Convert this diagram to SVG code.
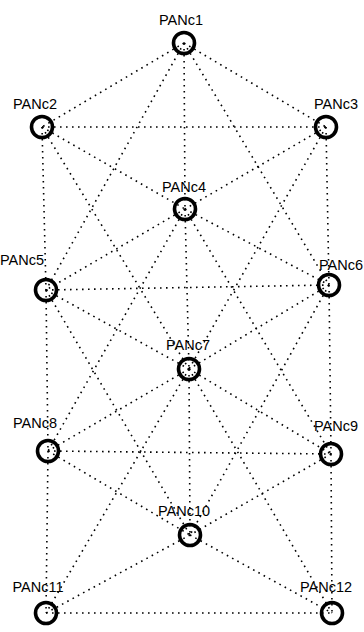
<svg xmlns="http://www.w3.org/2000/svg" width="364" height="632" viewBox="0 0 364 632">
<style>
.e{stroke:#000;stroke-width:1.6;stroke-dasharray:1.6 4.4;fill:none}
.n{fill:none;stroke:#000;stroke-width:3.6}
.t{font-family:"Liberation Sans",Arial,sans-serif;font-size:14.5px;fill:#000;text-anchor:middle}
</style>
<rect width="364" height="632" fill="#fff"/>
<g id="connectors">
<line class="e" x1="184" y1="43" x2="42" y2="127"/>
<line class="e" x1="184" y1="43" x2="326" y2="127"/>
<line class="e" x1="184" y1="43" x2="185" y2="209"/>
<line class="e" x1="184" y1="43" x2="46" y2="290"/>
<line class="e" x1="184" y1="43" x2="329" y2="285"/>
<line class="e" x1="42" y1="127" x2="326" y2="127"/>
<line class="e" x1="42" y1="127" x2="185" y2="209"/>
<line class="e" x1="42" y1="127" x2="46" y2="290"/>
<line class="e" x1="42" y1="127" x2="189" y2="369"/>
<line class="e" x1="326" y1="127" x2="185" y2="209"/>
<line class="e" x1="326" y1="127" x2="329" y2="285"/>
<line class="e" x1="326" y1="127" x2="189" y2="369"/>
<line class="e" x1="185" y1="209" x2="46" y2="290"/>
<line class="e" x1="185" y1="209" x2="329" y2="285"/>
<line class="e" x1="185" y1="209" x2="189" y2="369"/>
<line class="e" x1="185" y1="209" x2="48" y2="451"/>
<line class="e" x1="185" y1="209" x2="331" y2="454"/>
<line class="e" x1="46" y1="290" x2="329" y2="285"/>
<line class="e" x1="46" y1="290" x2="189" y2="369"/>
<line class="e" x1="46" y1="290" x2="48" y2="451"/>
<line class="e" x1="46" y1="290" x2="190" y2="535"/>
<line class="e" x1="329" y1="285" x2="189" y2="369"/>
<line class="e" x1="329" y1="285" x2="331" y2="454"/>
<line class="e" x1="329" y1="285" x2="190" y2="535"/>
<line class="e" x1="189" y1="369" x2="48" y2="451"/>
<line class="e" x1="189" y1="369" x2="331" y2="454"/>
<line class="e" x1="189" y1="369" x2="190" y2="535"/>
<line class="e" x1="189" y1="369" x2="46" y2="613"/>
<line class="e" x1="189" y1="369" x2="332" y2="613"/>
<line class="e" x1="48" y1="451" x2="331" y2="454"/>
<line class="e" x1="48" y1="451" x2="190" y2="535"/>
<line class="e" x1="48" y1="451" x2="46" y2="613"/>
<line class="e" x1="331" y1="454" x2="190" y2="535"/>
<line class="e" x1="331" y1="454" x2="332" y2="613"/>
<line class="e" x1="190" y1="535" x2="46" y2="613"/>
<line class="e" x1="190" y1="535" x2="332" y2="613"/>
<line class="e" x1="46" y1="613" x2="332" y2="613"/>
</g>
<g id="PANc1"><circle class="n" cx="184" cy="43" r="10.5"/><text class="t" x="181" y="25">PANc1</text></g>
<g id="PANc2"><circle class="n" cx="42" cy="127" r="10.5"/><text class="t" x="35" y="109">PANc2</text></g>
<g id="PANc3"><circle class="n" cx="326" cy="127" r="10.5"/><text class="t" x="336" y="109">PANc3</text></g>
<g id="PANc4"><circle class="n" cx="185" cy="209" r="10.5"/><text class="t" x="184" y="192">PANc4</text></g>
<g id="PANc5"><circle class="n" cx="46" cy="290" r="10.5"/><text class="t" x="22" y="265">PANc5</text></g>
<g id="PANc6"><circle class="n" cx="329" cy="285" r="10.5"/><text class="t" x="363" y="270" style="text-anchor:end">PANc6</text></g>
<g id="PANc7"><circle class="n" cx="189" cy="369" r="10.5"/><text class="t" x="188" y="350">PANc7</text></g>
<g id="PANc8"><circle class="n" cx="48" cy="451" r="10.5"/><text class="t" x="35" y="428">PANc8</text></g>
<g id="PANc9"><circle class="n" cx="331" cy="454" r="10.5"/><text class="t" x="336" y="431">PANc9</text></g>
<g id="PANc10"><circle class="n" cx="190" cy="535" r="10.5"/><text class="t" x="184" y="516">PANc10</text></g>
<g id="PANc11"><circle class="n" cx="46" cy="613" r="10.5"/><text class="t" x="38" y="592">PANc11</text></g>
<g id="PANc12"><circle class="n" cx="332" cy="613" r="10.5"/><text class="t" x="326" y="592">PANc12</text></g>
</svg>
